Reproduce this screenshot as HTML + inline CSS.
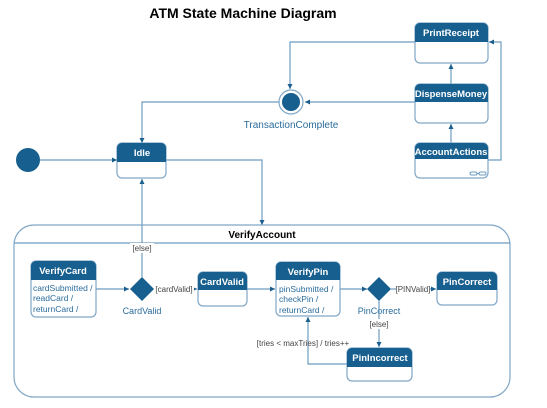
<!DOCTYPE html>
<html><head><meta charset="utf-8"><style>
html,body{margin:0;padding:0;background:#fff;width:547px;height:408px;overflow:hidden}
svg{display:block}
text{font-family:"Liberation Sans",sans-serif}
.h{fill:#fff;font-weight:bold;font-size:9.5px;text-anchor:middle}
.l{fill:none;stroke:#6f9cbf;stroke-width:1.2}
.b{fill:#fff;stroke:#7fa6c6;stroke-width:1.2}
.t{fill:#2a6c9c;font-size:8.5px}
.g{fill:#444;font-size:8px}
</style></head><body>
<svg width="547" height="408" viewBox="0 0 547 408">
<defs><marker id="a" markerWidth="6" markerHeight="6" refX="5" refY="3" orient="auto" markerUnits="userSpaceOnUse"><path d="M0,0.5 L5,3 L0,5.5z" fill="#1a5e8e"/></marker></defs>
<text x="243" y="18" text-anchor="middle" font-weight="bold" font-size="14" fill="#000">ATM  State Machine Diagram</text>

<path class="l" d="M415,42 H290 V89" marker-end="url(#a)"/>
<path class="l" d="M415,102 H305" marker-end="url(#a)"/>
<path class="l" d="M279,102 H142 V143" marker-end="url(#a)"/>
<path class="l" d="M451,143 V124" marker-end="url(#a)"/>
<path class="l" d="M451,84 V64" marker-end="url(#a)"/>
<path class="l" d="M488,160 H501 V42 H489" marker-end="url(#a)"/>
<path class="l" d="M40,160 H117" marker-end="url(#a)"/>
<path class="l" d="M166,160 H262 V225" marker-end="url(#a)"/>
<path class="l" d="M142,277 V179" marker-end="url(#a)"/>

<circle cx="291" cy="102" r="12" fill="#fff" stroke="#7fa6c6" stroke-width="1.2"/>
<circle cx="291" cy="102" r="9" fill="#175f8f"/>
<text x="291" y="128" text-anchor="middle" font-size="10" fill="#2a6c9c">TransactionComplete</text>
<circle cx="28" cy="160" r="12" fill="#175f8f"/>

<g>
<rect class="b" x="415" y="23" width="73" height="40" rx="5"/>
<path d="M415,42 V28 a5,5 0 0 1 5,-5 H483 a5,5 0 0 1 5,5 V42z" fill="#175f8f"/>
<text class="h" x="451" y="36">PrintReceipt</text>
<rect class="b" x="415" y="84" width="73" height="39" rx="5"/>
<path d="M415,102 V89 a5,5 0 0 1 5,-5 H483 a5,5 0 0 1 5,5 V102z" fill="#175f8f"/>
<text class="h" x="451" y="97">DispenseMoney</text>
<rect class="b" x="415" y="143" width="73" height="35" rx="5"/>
<path d="M415,159 V148 a5,5 0 0 1 5,-5 H483 a5,5 0 0 1 5,5 V159z" fill="#175f8f"/>
<text class="h" x="451" y="155">AccountActions</text>
<g fill="none" stroke="#6f9cbf" stroke-width="1"><rect x="470" y="172" width="7" height="3" rx="1.5"/><rect x="479" y="172" width="7" height="3" rx="1.5"/><path d="M477,173.5 H479"/></g>
<rect class="b" x="117" y="143" width="49" height="35" rx="5"/>
<path d="M117,162 V148 a5,5 0 0 1 5,-5 H161 a5,5 0 0 1 5,5 V162z" fill="#175f8f"/>
<text class="h" x="142" y="156">Idle</text>
</g>

<rect x="14" y="225" width="496" height="172" rx="20" fill="none" stroke="#7fa6c6" stroke-width="1.2"/>
<path class="l" d="M14,243 H510"/>
<text x="262" y="238" text-anchor="middle" font-weight="bold" font-size="10" fill="#000">VerifyAccount</text>
<rect x="130" y="243" width="24" height="10" fill="#fff"/>
<text class="g" x="142" y="251" text-anchor="middle">[else]</text>

<rect class="b" x="31" y="261" width="65" height="56" rx="5"/>
<path d="M31,280 V266 a5,5 0 0 1 5,-5 H91 a5,5 0 0 1 5,5 V280z" fill="#175f8f"/>
<text class="h" x="63" y="274">VerifyCard</text>
<text class="t" x="33" y="291">cardSubmitted /</text>
<text class="t" x="33" y="301">readCard /</text>
<text class="t" x="33" y="312">returnCard /</text>

<path class="l" d="M96,289 H129" marker-end="url(#a)"/>
<path d="M142,277 L154,289 L142,301 L130,289z" fill="#175f8f"/>
<text x="142" y="314" text-anchor="middle" font-size="9" fill="#2a6c9c">CardValid</text>
<path class="l" d="M154,289 H197" marker-end="url(#a)"/>
<rect x="154" y="284" width="40" height="10" fill="#fff"/>
<text class="g" x="174" y="292" text-anchor="middle">[cardValid]</text>

<rect class="b" x="198" y="272" width="49" height="34" rx="5"/>
<path d="M198,290 V277 a5,5 0 0 1 5,-5 H242 a5,5 0 0 1 5,5 V290z" fill="#175f8f"/>
<text class="h" x="222" y="285">CardValid</text>
<path class="l" d="M247,289 H275" marker-end="url(#a)"/>

<rect class="b" x="276" y="262" width="64" height="54" rx="5"/>
<path d="M276,280 V267 a5,5 0 0 1 5,-5 H335 a5,5 0 0 1 5,5 V280z" fill="#175f8f"/>
<text class="h" x="308" y="275">VerifyPin</text>
<text class="t" x="279" y="292">pinSubmitted /</text>
<text class="t" x="279" y="302">checkPin /</text>
<text class="t" x="279" y="313">returnCard /</text>

<path class="l" d="M340,289 H367" marker-end="url(#a)"/>
<path d="M379,277 L391,289 L379,301 L367,289z" fill="#175f8f"/>
<text x="379" y="314" text-anchor="middle" font-size="9" fill="#2a6c9c">PinCorrect</text>
<path class="l" d="M391,289 H436" marker-end="url(#a)"/>
<rect x="396" y="284" width="34" height="10" fill="#fff"/>
<text class="g" x="413" y="292" text-anchor="middle">[PINValid]</text>
<path class="l" d="M379,301 V347" marker-end="url(#a)"/>
<rect x="368" y="319" width="22" height="10" fill="#fff"/>
<text class="g" x="379" y="327" text-anchor="middle">[else]</text>

<rect class="b" x="437" y="272" width="60" height="33" rx="5"/>
<path d="M437,290 V277 a5,5 0 0 1 5,-5 H492 a5,5 0 0 1 5,5 V290z" fill="#175f8f"/>
<text class="h" x="467" y="285">PinCorrect</text>

<rect class="b" x="347" y="348" width="65" height="33" rx="5"/>
<path d="M347,367 V353 a5,5 0 0 1 5,-5 H407 a5,5 0 0 1 5,5 V367z" fill="#175f8f"/>
<text class="h" x="380" y="361">PinIncorrect</text>
<path class="l" d="M347,364 H308 V317" marker-end="url(#a)"/>
<text class="g" x="303" y="346" text-anchor="middle">[tries &lt; maxTries] / tries++</text>
</svg>
</body></html>
